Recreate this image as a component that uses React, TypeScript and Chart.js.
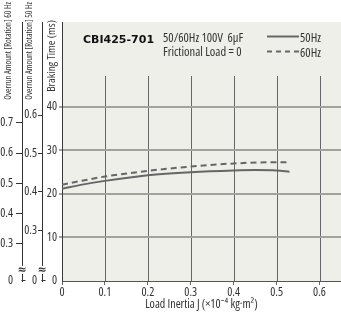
import React, { useEffect, useRef } from 'react';
import { Chart, registerables } from 'chart.js';

Chart.register(...registerables);

// ---- data ----
const inertia50 = [0, 0.05, 0.1, 0.2, 0.3, 0.4, 0.45, 0.5, 0.53];
const brake50 = [21.2, 22.2, 23.0, 24.3, 25.0, 25.4, 25.5, 25.4, 25.1];
const inertia60 = [0, 0.05, 0.1, 0.2, 0.3, 0.4, 0.5, 0.53];
const brake60 = [22.1, 23.1, 24.0, 25.3, 26.3, 27.0, 27.3, 27.3];

const xTicks = [0, 0.1, 0.2, 0.3, 0.4, 0.5, 0.6];
const brakeTicks = [0, 10, 20, 30, 40];
const overrun50Ticks = [0.3, 0.4, 0.5, 0.6];
const overrun60Ticks = [0.3, 0.4, 0.5, 0.6, 0.7];

const seriesLabels = ['50Hz', '60Hz'];
const modelName = 'CBI425-701';
const specLines = ['50/60Hz 100V  6\u03bcF', 'Frictional Load = 0'];
const xTitle = 'Load Inertia J (\u00d710\u207b\u2074 kg\u00b7m\u00b2)';
const brakeTitle = 'Braking Time (ms)';
const overrun50Title = 'Overrun Amount [Rotation] 50 Hz';
const overrun60Title = 'Overrun Amount [Rotation] 60 Hz';

const FAMILY = "'Open Sans', 'Noto Sans', sans-serif";
const cond = (size: number) => `condensed ${size}px ${FAMILY}`;
const TEXT = '#333333';
const LINE = '#666666';
const PLOT_BG = '#efefea';
const CLEAR = 'rgba(0,0,0,0)';

const decor = {
  id: 'decor',
  beforeDraw(chart: any) {
    const { ctx, chartArea: a, scales } = chart;
    ctx.save();
    ctx.fillStyle = PLOT_BG;
    ctx.fillRect(a.left, a.top, a.right - a.left, a.bottom - a.top);
    // vertical grid lines (only up to the top of the data region)
    const yTop = Math.round(scales.y.getPixelForValue(47));
    ctx.strokeStyle = LINE;
    ctx.lineWidth = 1;
    for (const t of scales.x.ticks) {
      if (t.value === 0) continue;
      const px = Math.round(scales.x.getPixelForValue(t.value)) + 0.5;
      ctx.beginPath();
      ctx.moveTo(px, yTop);
      ctx.lineTo(px, a.bottom);
      ctx.stroke();
    }
    ctx.restore();
  },
  afterDraw(chart: any) {
    const { ctx, scales, data } = chart;
    ctx.save();
    // break marks + bottom stubs on overrun axes
    for (const id of ['y60', 'y50']) {
      const s = scales[id];
      const x = Math.round(s.right) - 0.5;
      const by = s.bottom - 11;
      ctx.fillStyle = '#ffffff';
      ctx.fillRect(x - 4, by - 4, 8, 8);
      ctx.fillStyle = TEXT;
      ctx.font = `bold 11px 'DejaVu Sans'`;
      ctx.textAlign = 'center';
      ctx.textBaseline = 'middle';
      ctx.fillText('\u2248', x + 0.5, by);
      ctx.strokeStyle = TEXT;
      ctx.lineWidth = 1;
      ctx.beginPath();
      ctx.moveTo(x, Math.round(s.bottom) - 0.5);
      ctx.lineTo(x + 4, Math.round(s.bottom) - 0.5);
      ctx.stroke();
    }
    // rotated axis titles
    const rot = (text: string, x: number, yEnd: number, size: number) => {
      ctx.save();
      ctx.translate(x, yEnd);
      ctx.rotate(-Math.PI / 2);
      ctx.textAlign = 'right';
      ctx.textBaseline = 'middle';
      ctx.font = cond(size);
      ctx.fillStyle = TEXT;
      ctx.fillText(text, 0, 0);
      ctx.restore();
    };
    rot(overrun60Title, 8.5, 2, 8.5);
    rot(overrun50Title, 30, 2, 8.5);
    rot(brakeTitle, 51.5, 20, 11.5);

    // model name and conditions
    ctx.fillStyle = '#111111';
    ctx.textAlign = 'left';
    ctx.textBaseline = 'alphabetic';
    ctx.font = `bold 11px 'DejaVu Sans'`;
    ctx.fillText(modelName, 83, 43);
    ctx.fillStyle = TEXT;
    ctx.font = cond(12.5);
    ctx.fillText(specLines[0], 163, 42);
    ctx.fillText(specLines[1], 163, 56);

    // legend
    const rows = [36, 51];
    data.datasets.forEach((ds: any, i: number) => {
      const y = rows[i] + 0.5;
      ctx.strokeStyle = ds.borderColor;
      ctx.lineWidth = 2;
      ctx.setLineDash(ds.borderDash ? [5, 4] : []);
      ctx.beginPath();
      ctx.moveTo(267, y);
      ctx.lineTo(299, y);
      ctx.stroke();
      ctx.setLineDash([]);
      ctx.fillStyle = TEXT;
      ctx.font = cond(12.5);
      ctx.fillText(ds.label, 300, rows[i] + 6);
    });
    ctx.restore();
  },
};

export default function App() {
  const ref = useRef<HTMLCanvasElement | null>(null);

  useEffect(() => {
    document.body.style.margin = '0';
    const canvas = ref.current;
    if (!canvas) return;

    const setTicks = (vals: number[], withMin: boolean) => (s: any) => {
      const arr = withMin ? [s.min, ...vals] : vals;
      s.ticks = arr.map((v) => ({ value: v }));
    };
    // "condensed" is passed through the weight slot so the canvas font string gets font-stretch
    const tickFont = { family: FAMILY, size: 12, weight: 'condensed' };

    const chart = new Chart(canvas, {
      type: 'line',
      data: {
        datasets: [
          {
            label: seriesLabels[0],
            data: inertia50.map((x, i) => ({ x, y: brake50[i] })),
            borderColor: LINE,
            borderWidth: 2,
            pointRadius: 0,
            cubicInterpolationMode: 'monotone',
            xAxisID: 'x',
            yAxisID: 'y',
          },
          {
            label: seriesLabels[1],
            data: inertia60.map((x, i) => ({ x, y: brake60[i] })),
            borderColor: LINE,
            borderWidth: 2,
            borderDash: [6, 4],
            pointRadius: 0,
            cubicInterpolationMode: 'monotone',
            xAxisID: 'x',
            yAxisID: 'y',
          },
        ],
      },
      options: {
        animation: false,
        responsive: false,
        devicePixelRatio: 1,
        layout: { padding: { top: 22, left: 0, right: 0, bottom: 0 } },
        plugins: { legend: { display: false }, tooltip: { enabled: false }, title: { display: false } },
        scales: {
          x: {
            type: 'linear',
            min: 0,
            max: 0.65,
            afterBuildTicks: setTicks(xTicks, false),
            afterFit: (s: any) => { s.height = 43; },
            ticks: {
              autoSkip: false,
              maxRotation: 0,
              padding: 0,
              color: TEXT,
              font: tickFont,
              callback: (v: any) => (Number(v) === 0 ? '0' : Number(v).toFixed(1)),
            },
            grid: { drawOnChartArea: false, drawTicks: true, tickLength: 4, color: LINE, lineWidth: 1 },
            border: { display: true, color: '#555555', width: 1 },
            title: {
              display: true,
              text: xTitle,
              color: TEXT,
              font: { family: FAMILY, size: 12, weight: 'condensed' },
              padding: { top: 0, bottom: 12 },
            },
          },
          y: {
            type: 'linear',
            position: 'left',
            weight: 0,
            min: 0,
            max: 59.5,
            afterBuildTicks: setTicks(brakeTicks, false),
            afterFit: (s: any) => { s.width = 20; },
            ticks: { autoSkip: false, padding: 2, color: TEXT, font: tickFont },
            grid: {
              drawOnChartArea: true,
              drawTicks: true,
              tickLength: 3,
              lineWidth: 2,
              color: (c: any) => (c.tick && c.tick.value === 0 ? CLEAR : '#a3a39e'),
            },
            border: { display: true, color: '#3a3a3a', width: 1 },
          },
          y50: {
            type: 'linear',
            position: 'left',
            weight: 1,
            min: 0.1688,
            max: 0.8416,
            afterBuildTicks: setTicks(overrun50Ticks, true),
            afterFit: (s: any) => { s.width = 20; },
            ticks: {
              autoSkip: false,
              padding: 1,
              color: TEXT,
              font: tickFont,
              callback: (v: any, i: number) => (i === 0 ? '0' : Number(v).toFixed(1)),
            },
            grid: {
              drawOnChartArea: false,
              drawTicks: true,
              tickLength: 4,
              lineWidth: 1,
              color: '#333333',
              tickColor: (c: any) => (c.index === 0 ? CLEAR : '#333333'),
            },
            border: { display: true, color: '#333333', width: 1 },
          },
          y60: {
            type: 'linear',
            position: 'left',
            weight: 2,
            min: 0.1762,
            max: 1.0338,
            afterBuildTicks: setTicks(overrun60Ticks, true),
            afterFit: (s: any) => { s.width = 22; },
            ticks: {
              autoSkip: false,
              padding: 3,
              color: TEXT,
              font: tickFont,
              callback: (v: any, i: number) => (i === 0 ? '0' : Number(v).toFixed(1)),
            },
            grid: {
              drawOnChartArea: false,
              drawTicks: true,
              tickLength: 6,
              lineWidth: 1,
              color: '#333333',
              tickColor: (c: any) => (c.index === 0 ? CLEAR : '#333333'),
            },
            border: { display: true, color: '#333333', width: 1 },
          },
        },
      } as any,
      plugins: [decor],
    });

    return () => chart.destroy();
  }, []);

  return (
    <div style={{ width: 341, height: 324 }}>
      <canvas ref={ref} width={341} height={324} style={{ display: 'block' }} />
    </div>
  );
}
